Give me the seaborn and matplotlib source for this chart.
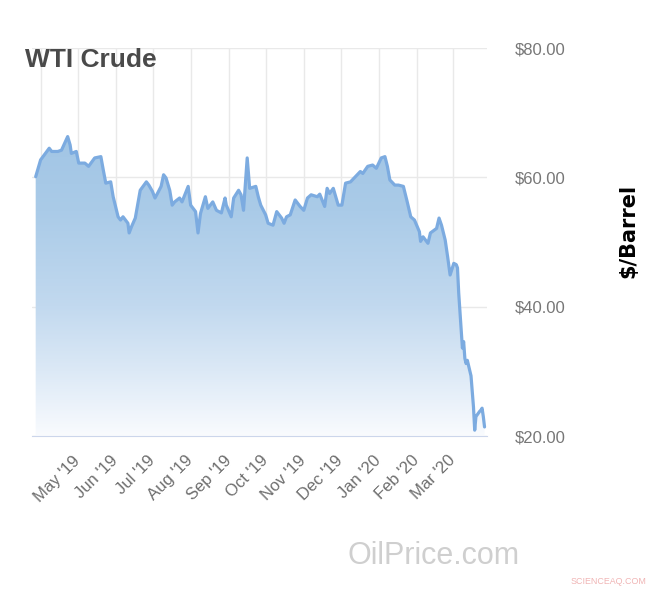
import numpy as np
import pandas as pd
import matplotlib
matplotlib.use('Agg')
import matplotlib.pyplot as plt
import matplotlib.dates as mdates
from matplotlib.colors import LinearSegmentedColormap
import seaborn as sns

# WTI crude, $/barrel
dates = [
    '2019-03-28', '2019-04-01', '2019-04-08', '2019-04-10', '2019-04-15', '2019-04-18',
    '2019-04-23', '2019-04-25', '2019-04-26', '2019-04-30', '2019-05-02', '2019-05-07',
    '2019-05-10', '2019-05-15', '2019-05-20', '2019-05-22', '2019-05-24', '2019-05-28',
    '2019-05-30', '2019-06-03', '2019-06-05', '2019-06-07', '2019-06-11', '2019-06-12',
    '2019-06-14', '2019-06-17', '2019-06-20', '2019-06-21', '2019-06-26', '2019-06-28',
    '2019-07-01', '2019-07-03', '2019-07-05', '2019-07-08', '2019-07-10', '2019-07-12',
    '2019-07-15', '2019-07-17', '2019-07-19', '2019-07-23', '2019-07-25', '2019-07-30',
    '2019-08-01', '2019-08-05', '2019-08-07', '2019-08-09', '2019-08-13', '2019-08-15',
    '2019-08-19', '2019-08-22', '2019-08-26', '2019-08-29', '2019-08-30', '2019-09-03',
    '2019-09-05', '2019-09-09', '2019-09-11', '2019-09-13', '2019-09-16', '2019-09-18',
    '2019-09-23', '2019-09-25', '2019-09-27', '2019-10-01', '2019-10-03', '2019-10-07',
    '2019-10-10', '2019-10-14', '2019-10-16', '2019-10-18', '2019-10-21', '2019-10-25',
    '2019-10-29', '2019-11-01', '2019-11-04', '2019-11-07', '2019-11-12', '2019-11-14',
    '2019-11-18', '2019-11-20', '2019-11-22', '2019-11-25', '2019-11-29', '2019-12-02',
    '2019-12-05', '2019-12-09', '2019-12-13', '2019-12-17', '2019-12-19', '2019-12-23',
    '2019-12-27', '2019-12-30', '2020-01-03', '2020-01-06', '2020-01-08', '2020-01-10',
    '2020-01-14', '2020-01-17', '2020-01-21', '2020-01-24', '2020-01-27', '2020-01-30',
    '2020-02-03', '2020-02-04', '2020-02-06', '2020-02-10', '2020-02-12', '2020-02-17',
    '2020-02-19', '2020-02-21', '2020-02-24', '2020-02-26', '2020-02-28', '2020-03-02',
    '2020-03-04', '2020-03-05', '2020-03-06', '2020-03-09', '2020-03-10', '2020-03-11',
    '2020-03-12', '2020-03-13', '2020-03-16', '2020-03-17', '2020-03-18', '2020-03-19',
    '2020-03-20', '2020-03-23', '2020-03-24', '2020-03-25', '2020-03-26', '2020-03-27',
]
prices = [
    60.1, 62.7, 64.5, 64.0, 64.0, 64.2,
    66.3, 65.0, 63.7, 64.0, 62.2, 62.2,
    61.7, 63.0, 63.2, 61.1, 59.1, 59.3,
    57.0, 53.9, 53.4, 53.9, 52.9, 51.4,
    52.4, 53.7, 57.0, 58.0, 59.3, 58.8,
    57.8, 56.8, 57.5, 58.6, 60.4, 59.9,
    58.0, 55.7, 56.2, 56.8, 56.2, 58.6,
    55.7, 54.7, 51.4, 54.4, 57.0, 55.2,
    56.2, 54.9, 54.5, 56.8, 55.7, 53.9,
    56.8, 58.0, 57.3, 54.9, 63.0, 58.3,
    58.6, 57.0, 55.7, 54.2, 52.9, 52.6,
    54.7, 53.7, 52.9, 53.9, 54.2, 56.5,
    55.5, 54.9, 56.8, 57.3, 57.0, 57.4,
    55.5, 58.3, 57.5, 58.3, 55.7, 55.7,
    59.1, 59.3, 60.1, 60.9, 60.6, 61.7,
    61.9, 61.4, 63.0, 63.2, 61.7, 59.6,
    58.8, 58.8, 58.6, 56.3, 53.9, 53.4,
    51.6, 50.1, 50.8, 49.8, 51.4, 52.1,
    53.7, 52.6, 50.3, 47.7, 44.9, 46.7,
    46.5, 46.0, 42.1, 33.6, 34.6, 32.0,
    31.2, 31.7, 29.3, 27.0, 24.5, 20.9,
    23.0, 23.8, 24.0, 24.3, 23.0, 21.4,
]
y_ticks = [20, 40, 60, 80]
month_ticks = pd.date_range('2019-04-01', '2020-03-01', freq='MS')

line_color = '#7cabe0'

sns.set_style('white')
plt.rcParams['font.family'] = ['Liberation Sans', 'DejaVu Sans']

df = pd.DataFrame({'date': pd.to_datetime(dates), 'price': prices})

fig = plt.figure(figsize=(6.61, 5.91), dpi=100)
ax = fig.add_axes([32 / 661, 155 / 591, 455 / 661, 388 / 591])

sns.lineplot(data=df, x='date', y='price', color=line_color, linewidth=2.3, ax=ax, zorder=3)

# gradient area under the line
x_lo = mdates.date2num(pd.Timestamp('2019-03-25'))
x_hi = mdates.date2num(pd.Timestamp('2020-03-29'))
area = ax.fill_between(df['date'], df['price'], 20, facecolor='none', edgecolor='none')
cmap = LinearSegmentedColormap.from_list('fade', [
    (0.0, '#f9fbfe'), (1 / 6, '#dce9f6'), (1 / 3, '#c2d9ef'),
    (0.58, '#aacbe8'), (1.0, '#98bfe2')])
grad = np.linspace(0, 1, 256).reshape(-1, 1)
img = ax.imshow(grad, extent=[x_lo, x_hi, 20, 80], origin='lower', aspect='auto',
                cmap=cmap, zorder=2)
img.set_clip_path(area.get_paths()[0], transform=ax.transData)

ax.set_xlim(x_lo, x_hi)
ax.set_ylim(20, 80)

ax.set_xticks(month_ticks)
ax.set_xticklabels([''] + [d.strftime("%b '%y") for d in month_ticks[1:]],
                   rotation=45, ha='right', va='center', rotation_mode='anchor')
ax.xaxis.get_major_ticks()[0].tick1line.set_visible(False)
ax.tick_params(axis='x', length=11, width=1, color='#ccd6eb', pad=5,
               labelsize=12, labelcolor='#6e6e6e')

ax.yaxis.tick_right()
ax.set_yticks(y_ticks)
ax.set_yticklabels([r'\$%.2f' % v for v in y_ticks])
ax.tick_params(axis='y', length=0, pad=20, labelsize=12, labelcolor='#777777')

ax.grid(True, color='#e9e9e9', linewidth=1)
ax.set_axisbelow(True)
for s in ['top', 'left', 'right']:
    ax.spines[s].set_visible(False)
ax.spines['bottom'].set_color('#ccd6eb')
ax.set_xlabel('')
ax.set_ylabel('')

fig.text(25 / 661, 1 - 67 / 591, 'WTI Crude', fontsize=19, fontweight='bold',
         color='#4a4a4a', va='baseline')
fig.text(628 / 661, 1 - 231 / 591, r'\$/Barrel', rotation=90, fontsize=15,
         fontweight='bold', family=['DejaVu Sans'], color='black', ha='center', va='center')
fig.text(434 / 661, 1 - 556 / 591, 'OilPrice.com', fontsize=22, color='#cfcfcf',
         ha='center', va='center')
fig.text(608 / 661, 1 - 582 / 591, 'SCIENCEAQ.COM', fontsize=6.4, color='#f0b4b4',
         ha='center', va='center')

fig.savefig('out.png', dpi=100)
